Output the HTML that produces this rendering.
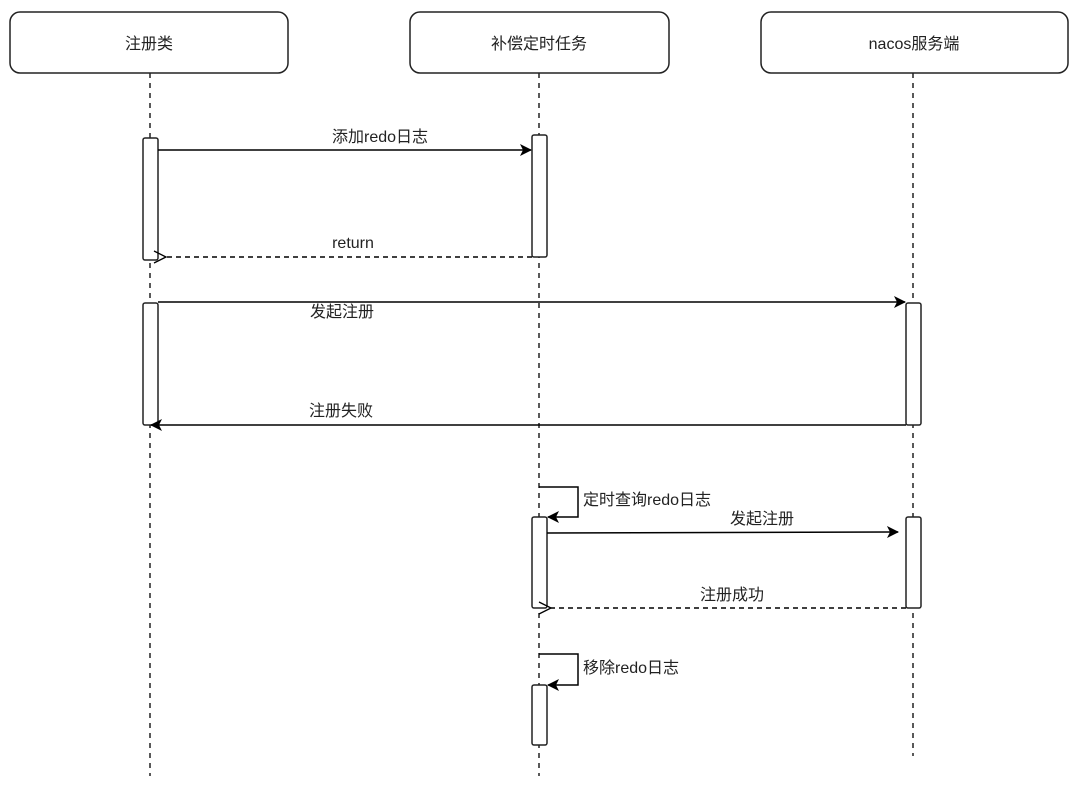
<!DOCTYPE html>
<html><head><meta charset="utf-8"><style>
html,body{margin:0;padding:0;background:#fff;}
svg text{font-family:"Liberation Sans","Noto Sans CJK SC",sans-serif;font-size:16px;fill:#222;}
</style></head><body>
<svg width="1080" height="790" xmlns="http://www.w3.org/2000/svg">
<defs>
<marker id="f" markerWidth="12" markerHeight="12" refX="11" refY="6" orient="auto" markerUnits="userSpaceOnUse"><path d="M0,0 L12,6 L0,12 L3,6 Z" fill="#000"/></marker>
<marker id="o" markerWidth="14" markerHeight="14" refX="1" refY="7" orient="auto" markerUnits="userSpaceOnUse"><path d="M13,1 L1,7 L13,13" fill="none" stroke="#000" stroke-width="1.3"/></marker>
</defs>
<g fill="#fff" stroke="#222" stroke-width="1.5">
<rect x="10" y="12" width="278" height="61" rx="10"/>
<rect x="410" y="12" width="259" height="61" rx="10"/>
<rect x="761" y="12" width="307" height="61" rx="10"/>
</g>
<text x="149" y="49" text-anchor="middle">注册类</text>
<text x="539" y="49" text-anchor="middle">补偿定时任务</text>
<text x="914" y="49" text-anchor="middle">nacos服务端</text>
<g stroke="#222" stroke-width="1.5" stroke-dasharray="5,5" fill="none">
<line x1="150" y1="73" x2="150" y2="776"/>
<line x1="539" y1="73" x2="539" y2="776"/>
<line x1="913" y1="73" x2="913" y2="756"/>
</g>
<g fill="#fff" stroke="#222" stroke-width="1.5">
<rect x="143" y="138" width="15" height="122" rx="2"/>
<rect x="532" y="135" width="15" height="122" rx="2"/>
<rect x="143" y="303" width="15" height="122" rx="2"/>
<rect x="906" y="303" width="15" height="122" rx="2"/>
<rect x="532" y="517" width="15" height="91" rx="2"/>
<rect x="906" y="517" width="15" height="91" rx="2"/>
<rect x="532" y="685" width="15" height="60" rx="2"/>
</g>
<g stroke="#000" stroke-width="1.5" fill="none">
<line x1="158" y1="150" x2="531" y2="150" marker-end="url(#f)"/>
<line x1="532" y1="257" x2="166" y2="257" stroke-dasharray="5,4" marker-end="url(#o)"/>
<line x1="158" y1="302" x2="905" y2="302" marker-end="url(#f)"/>
<line x1="906" y1="425" x2="151" y2="425" marker-end="url(#f)"/>
<polyline points="539,487 578,487 578,517 548,517" marker-end="url(#f)"/>
<line x1="547" y1="533" x2="898" y2="532" marker-end="url(#f)"/>
<line x1="906" y1="608" x2="551" y2="608" stroke-dasharray="5,4" marker-end="url(#o)"/>
<polyline points="539,654 578,654 578,685 548,685" marker-end="url(#f)"/>
</g>
<text x="380" y="142" text-anchor="middle">添加redo日志</text>
<text x="353" y="248" text-anchor="middle">return</text>
<text x="342" y="317" text-anchor="middle">发起注册</text>
<text x="341" y="416" text-anchor="middle">注册失败</text>
<text x="583" y="505">定时查询redo日志</text>
<text x="762" y="524" text-anchor="middle">发起注册</text>
<text x="732" y="600" text-anchor="middle">注册成功</text>
<text x="583" y="673">移除redo日志</text>
</svg>
</body></html>
